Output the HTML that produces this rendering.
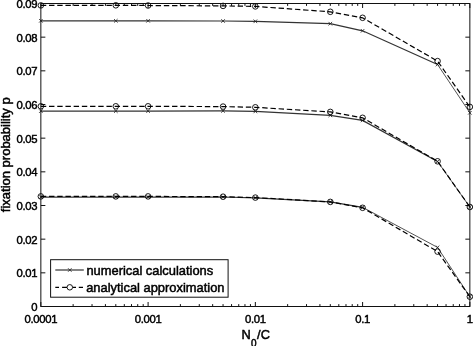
<!DOCTYPE html>
<html><head><meta charset="utf-8"><title>fixation probability</title>
<style>html,body{margin:0;padding:0;background:#fff}body{width:473px;height:346px;overflow:hidden}svg{display:block}.t{letter-spacing:-0.3px}.l{stroke-width:0.48px}text{stroke:#000;stroke-width:0.45px;font-family:"Liberation Sans",sans-serif;fill:#000}</style></head><body>
<svg width="473" height="346" viewBox="0 0 473 346">
<rect width="473" height="346" fill="#fff"/>
<path d="M40.85 306.5v-4.5M40.85 3.5v4.5M73.14 306.5v-2.4M73.14 3.5v2.4M92.02 306.5v-2.4M92.02 3.5v2.4M105.42 306.5v-2.4M105.42 3.5v2.4M115.81 306.5v-2.4M115.81 3.5v2.4M124.31 306.5v-2.4M124.31 3.5v2.4M131.49 306.5v-2.4M131.49 3.5v2.4M137.71 306.5v-2.4M137.71 3.5v2.4M143.19 306.5v-2.4M143.19 3.5v2.4M148.10 306.5v-4.5M148.10 3.5v4.5M180.39 306.5v-2.4M180.39 3.5v2.4M199.27 306.5v-2.4M199.27 3.5v2.4M212.67 306.5v-2.4M212.67 3.5v2.4M223.06 306.5v-2.4M223.06 3.5v2.4M231.56 306.5v-2.4M231.56 3.5v2.4M238.74 306.5v-2.4M238.74 3.5v2.4M244.96 306.5v-2.4M244.96 3.5v2.4M250.44 306.5v-2.4M250.44 3.5v2.4M255.35 306.5v-4.5M255.35 3.5v4.5M287.64 306.5v-2.4M287.64 3.5v2.4M306.52 306.5v-2.4M306.52 3.5v2.4M319.92 306.5v-2.4M319.92 3.5v2.4M330.31 306.5v-2.4M330.31 3.5v2.4M338.81 306.5v-2.4M338.81 3.5v2.4M345.99 306.5v-2.4M345.99 3.5v2.4M352.21 306.5v-2.4M352.21 3.5v2.4M357.69 306.5v-2.4M357.69 3.5v2.4M362.60 306.5v-4.5M362.60 3.5v4.5M394.89 306.5v-2.4M394.89 3.5v2.4M413.77 306.5v-2.4M413.77 3.5v2.4M427.17 306.5v-2.4M427.17 3.5v2.4M437.56 306.5v-2.4M437.56 3.5v2.4M446.06 306.5v-2.4M446.06 3.5v2.4M453.24 306.5v-2.4M453.24 3.5v2.4M459.46 306.5v-2.4M459.46 3.5v2.4M464.94 306.5v-2.4M464.94 3.5v2.4M469.85 306.5v-4.5M469.85 3.5v4.5M40.85 306.50h4.5M469.85 306.50h-4.5M40.85 272.83h4.5M469.85 272.83h-4.5M40.85 239.17h4.5M469.85 239.17h-4.5M40.85 205.50h4.5M469.85 205.50h-4.5M40.85 171.83h4.5M469.85 171.83h-4.5M40.85 138.17h4.5M469.85 138.17h-4.5M40.85 104.50h4.5M469.85 104.50h-4.5M40.85 70.83h4.5M469.85 70.83h-4.5M40.85 37.17h4.5M469.85 37.17h-4.5M40.85 3.50h4.5M469.85 3.50h-4.5" stroke="#111" stroke-width="1" fill="none"/>
<polyline points="40.85,20.80 115.81,20.80 148.10,20.80 223.06,21.00 255.35,21.30 330.31,23.70 362.60,30.80 437.56,64.50" fill="none" stroke="#333" stroke-width="1.25"/>
<polyline points="437.56,64.50 469.85,112.80" fill="none" stroke="#333" stroke-width="0.85"/>
<path d="M39.05 19.00l3.6 3.6M39.05 22.60l3.6 -3.6M114.01 19.00l3.6 3.6M114.01 22.60l3.6 -3.6M146.30 19.00l3.6 3.6M146.30 22.60l3.6 -3.6M221.26 19.20l3.6 3.6M221.26 22.80l3.6 -3.6M253.55 19.50l3.6 3.6M253.55 23.10l3.6 -3.6M328.51 21.90l3.6 3.6M328.51 25.50l3.6 -3.6M360.80 29.00l3.6 3.6M360.80 32.60l3.6 -3.6M435.76 62.70l3.6 3.6M435.76 66.30l3.6 -3.6M468.05 111.00l3.6 3.6M468.05 114.60l3.6 -3.6" stroke="#222" stroke-width="0.8" fill="none"/>
<polyline points="40.85,111.10 115.81,111.10 148.10,111.10 223.06,110.90 255.35,111.40 330.31,115.30 362.60,120.40 437.56,161.50" fill="none" stroke="#333" stroke-width="1.25"/>
<polyline points="437.56,161.50 469.85,207.00" fill="none" stroke="#333" stroke-width="0.85"/>
<path d="M39.05 109.30l3.6 3.6M39.05 112.90l3.6 -3.6M114.01 109.30l3.6 3.6M114.01 112.90l3.6 -3.6M146.30 109.30l3.6 3.6M146.30 112.90l3.6 -3.6M221.26 109.10l3.6 3.6M221.26 112.70l3.6 -3.6M253.55 109.60l3.6 3.6M253.55 113.20l3.6 -3.6M328.51 113.50l3.6 3.6M328.51 117.10l3.6 -3.6M360.80 118.60l3.6 3.6M360.80 122.20l3.6 -3.6M435.76 159.70l3.6 3.6M435.76 163.30l3.6 -3.6M468.05 205.20l3.6 3.6M468.05 208.80l3.6 -3.6" stroke="#222" stroke-width="0.8" fill="none"/>
<polyline points="40.85,197.00 115.81,197.00 148.10,197.00 223.06,197.00 255.35,197.80 330.31,201.90 362.60,207.30" fill="none" stroke="#333" stroke-width="1.25"/>
<polyline points="362.60,207.30 437.56,247.40 469.85,296.70" fill="none" stroke="#333" stroke-width="0.85"/>
<path d="M39.05 195.20l3.6 3.6M39.05 198.80l3.6 -3.6M114.01 195.20l3.6 3.6M114.01 198.80l3.6 -3.6M146.30 195.20l3.6 3.6M146.30 198.80l3.6 -3.6M221.26 195.20l3.6 3.6M221.26 198.80l3.6 -3.6M253.55 196.00l3.6 3.6M253.55 199.60l3.6 -3.6M328.51 200.10l3.6 3.6M328.51 203.70l3.6 -3.6M360.80 205.50l3.6 3.6M360.80 209.10l3.6 -3.6M435.76 245.60l3.6 3.6M435.76 249.20l3.6 -3.6M468.05 294.90l3.6 3.6M468.05 298.50l3.6 -3.6" stroke="#222" stroke-width="0.8" fill="none"/>
<polyline points="40.85,5.40 115.81,5.30 148.10,5.50 223.06,5.90 255.35,6.40 330.31,11.80 362.60,17.80 437.56,61.10 469.85,106.90" fill="none" stroke="#000" stroke-width="1.2" stroke-dasharray="5.4 2.8"/>
<circle cx="40.85" cy="5.40" r="2.8" fill="none" stroke="#000" stroke-width="0.9"/>
<circle cx="115.81" cy="5.30" r="2.8" fill="none" stroke="#000" stroke-width="0.9"/>
<circle cx="148.10" cy="5.50" r="2.8" fill="none" stroke="#000" stroke-width="0.9"/>
<circle cx="223.06" cy="5.90" r="2.8" fill="none" stroke="#000" stroke-width="0.9"/>
<circle cx="255.35" cy="6.40" r="2.8" fill="none" stroke="#000" stroke-width="0.9"/>
<circle cx="330.31" cy="11.80" r="2.8" fill="none" stroke="#000" stroke-width="0.9"/>
<circle cx="362.60" cy="17.80" r="2.8" fill="none" stroke="#000" stroke-width="0.9"/>
<circle cx="437.56" cy="61.10" r="2.8" fill="none" stroke="#000" stroke-width="0.9"/>
<circle cx="469.85" cy="106.90" r="2.8" fill="none" stroke="#000" stroke-width="0.9"/>
<polyline points="40.85,106.30 115.81,106.30 148.10,106.30 223.06,106.60 255.35,107.30 330.31,111.90 362.60,117.80 437.56,161.30 469.85,207.00" fill="none" stroke="#000" stroke-width="1.2" stroke-dasharray="5.4 2.8"/>
<circle cx="40.85" cy="106.30" r="2.8" fill="none" stroke="#000" stroke-width="0.9"/>
<circle cx="115.81" cy="106.30" r="2.8" fill="none" stroke="#000" stroke-width="0.9"/>
<circle cx="148.10" cy="106.30" r="2.8" fill="none" stroke="#000" stroke-width="0.9"/>
<circle cx="223.06" cy="106.60" r="2.8" fill="none" stroke="#000" stroke-width="0.9"/>
<circle cx="255.35" cy="107.30" r="2.8" fill="none" stroke="#000" stroke-width="0.9"/>
<circle cx="330.31" cy="111.90" r="2.8" fill="none" stroke="#000" stroke-width="0.9"/>
<circle cx="362.60" cy="117.80" r="2.8" fill="none" stroke="#000" stroke-width="0.9"/>
<circle cx="437.56" cy="161.30" r="2.8" fill="none" stroke="#000" stroke-width="0.9"/>
<circle cx="469.85" cy="207.00" r="2.8" fill="none" stroke="#000" stroke-width="0.9"/>
<polyline points="40.85,196.40 115.81,196.40 148.10,196.40 223.06,196.70 255.35,197.60 330.31,201.90 362.60,207.80 437.56,251.60 469.85,296.70" fill="none" stroke="#000" stroke-width="1.2" stroke-dasharray="5.4 2.8"/>
<circle cx="40.85" cy="196.40" r="2.8" fill="none" stroke="#000" stroke-width="0.9"/>
<circle cx="115.81" cy="196.40" r="2.8" fill="none" stroke="#000" stroke-width="0.9"/>
<circle cx="148.10" cy="196.40" r="2.8" fill="none" stroke="#000" stroke-width="0.9"/>
<circle cx="223.06" cy="196.70" r="2.8" fill="none" stroke="#000" stroke-width="0.9"/>
<circle cx="255.35" cy="197.60" r="2.8" fill="none" stroke="#000" stroke-width="0.9"/>
<circle cx="330.31" cy="201.90" r="2.8" fill="none" stroke="#000" stroke-width="0.9"/>
<circle cx="362.60" cy="207.80" r="2.8" fill="none" stroke="#000" stroke-width="0.9"/>
<circle cx="437.56" cy="251.60" r="2.8" fill="none" stroke="#000" stroke-width="0.9"/>
<circle cx="469.85" cy="296.70" r="2.8" fill="none" stroke="#000" stroke-width="0.9"/>
<rect x="40.85" y="3.5" width="429.0" height="303.0" fill="none" stroke="#111" stroke-width="1"/>
<text x="37.3" y="311.00" font-size="11.3" text-anchor="end" class="t">0</text>
<text x="37.3" y="277.33" font-size="11.3" text-anchor="end" class="t">0.01</text>
<text x="37.3" y="243.67" font-size="11.3" text-anchor="end" class="t">0.02</text>
<text x="37.3" y="210.00" font-size="11.3" text-anchor="end" class="t">0.03</text>
<text x="37.3" y="176.33" font-size="11.3" text-anchor="end" class="t">0.04</text>
<text x="37.3" y="142.67" font-size="11.3" text-anchor="end" class="t">0.05</text>
<text x="37.3" y="109.00" font-size="11.3" text-anchor="end" class="t">0.06</text>
<text x="37.3" y="75.33" font-size="11.3" text-anchor="end" class="t">0.07</text>
<text x="37.3" y="41.67" font-size="11.3" text-anchor="end" class="t">0.08</text>
<text x="37.3" y="8.00" font-size="11.3" text-anchor="end" class="t">0.09</text>
<text x="40.85" y="322.5" font-size="11.3" text-anchor="middle" class="t">0.0001</text>
<text x="148.10" y="322.5" font-size="11.3" text-anchor="middle" class="t">0.001</text>
<text x="255.35" y="322.5" font-size="11.3" text-anchor="middle" class="t">0.01</text>
<text x="362.60" y="322.5" font-size="11.3" text-anchor="middle" class="t">0.1</text>
<text x="469.85" y="322.5" font-size="11.3" text-anchor="middle" class="t">1</text>
<text transform="translate(10.2 212.2) rotate(-90)" font-size="13" class="l">fixation probability p</text>
<text y="338.8" font-size="12.8" class="l"><tspan x="241.5">N</tspan><tspan x="251" y="347.4" font-size="10">0</tspan><tspan x="257" y="338.8">/</tspan><tspan x="260.75" y="338.8">C</tspan></text>
<rect x="50.6" y="259.7" width="177.5" height="37.5" fill="#fff" stroke="#111" stroke-width="1"/>
<path d="M55.3 270H83.8" stroke="#333" stroke-width="1.2"/>
<path d="M68 268.2l3.6 3.6M68 271.8l3.6 -3.6" stroke="#222" stroke-width="0.8"/>
<path d="M55.3 287.4H59M62.1 287.4H67.2M72.4 287.4H76M78.8 287.4H83" stroke="#000" stroke-width="1.1"/>
<circle cx="69.8" cy="287.3" r="2.75" fill="#fff" stroke="#000" stroke-width="0.9"/>
<text x="86.4" y="274.6" font-size="12.9" class="l">numerical calculations</text>
<text x="86.2" y="292.2" font-size="12.9" class="l">analytical approximation</text>
</svg></body></html>
